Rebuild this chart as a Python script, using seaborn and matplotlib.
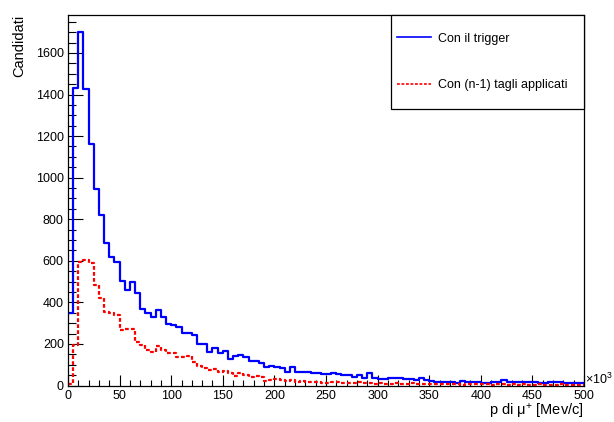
import numpy as np
import pandas as pd
import matplotlib
matplotlib.use("Agg")
import matplotlib.pyplot as plt
import seaborn as sns
from matplotlib.ticker import MultipleLocator

# ---- data (bin width 5 x10^3 MeV/c, 0..500) ----
bin_width = 5
bin_lo = 0
bin_hi = 500

trigger_counts = [
    348, 1432, 1700, 1425, 1163, 947, 819, 686, 616, 595,
    502, 460, 497, 443, 366, 347, 328, 363, 328, 296,
    291, 280, 251, 254, 243, 200, 200, 160, 179, 155,
    166, 126, 142, 145, 135, 120, 120, 107, 91, 96,
    91, 83, 67, 91, 67, 64, 64, 62, 59, 56,
    56, 59, 56, 51, 51, 40, 51, 37, 59, 35,
    30, 30, 35, 38, 35, 32, 32, 27, 35, 27,
    24, 19, 19, 19, 16, 11, 24, 19, 19, 19,
    14, 14, 16, 16, 27, 19, 19, 16, 19, 16,
    16, 14, 14, 19, 16, 16, 14, 11, 11, 11,
]

cuts_counts = [
    5, 195, 595, 603, 590, 483, 419, 355, 347, 339,
    267, 270, 270, 211, 195, 171, 163, 190, 171, 158,
    155, 136, 136, 142, 115, 94, 83, 75, 78, 67,
    70, 59, 46, 62, 51, 43, 46, 43, 24, 27,
    32, 27, 22, 27, 19, 22, 19, 19, 16, 11,
    14, 19, 16, 11, 14, 11, 19, 11, 12, 8,
    10, 6, 9, 11, 7, 8, 10, 6, 8, 5,
    7, 9, 6, 5, 8, 6, 4, 7, 5, 6,
    8, 5, 4, 6, 5, 3, 5, 4, 6, 4,
    3, 5, 4, 3, 4, 5, 3, 4, 3, 2,
]

labels = ["Con il trigger", "Con (n-1) tagli applicati"]
x_title = "p di \u03bc$^{+}$ [Mev/c]"
y_title = "Candidati"

edges = np.arange(bin_lo, bin_hi + bin_width, bin_width)
centers = edges[:-1] + bin_width / 2
df_trig = pd.DataFrame({"p": centers, "n": np.asarray(trigger_counts, dtype=float)})
df_cuts = pd.DataFrame({"p": centers, "n": np.asarray(cuts_counts, dtype=float)})

plt.rcParams["font.family"] = ["Liberation Sans", "DejaVu Sans"]
plt.rcParams["mathtext.fontset"] = "custom"
plt.rcParams["mathtext.rm"] = "Liberation Sans"
plt.rcParams["mathtext.it"] = "Liberation Sans:italic"
plt.rcParams["mathtext.bf"] = "Liberation Sans:bold"

W, H = 614, 422
fig = plt.figure(figsize=(W / 100, H / 100), dpi=100)
fig.patch.set_facecolor("white")
ax = fig.add_axes([68 / W, 1 - 385.5 / H, (584 - 68) / W, (385.5 - 14.5) / H])

sns.histplot(data=df_trig, x="p", weights="n", binwidth=bin_width,
             binrange=(bin_lo, bin_hi),
             element="step", fill=False, color="#0000ff", linewidth=1.6,
             ax=ax, label=labels[0])
sns.histplot(data=df_cuts, x="p", weights="n", binwidth=bin_width,
             binrange=(bin_lo, bin_hi),
             element="step", fill=False, color="#ff0000", linewidth=1.6,
             linestyle=(0, (1.7, 1.0)), ax=ax, label=labels[1])

ax.set_xlim(bin_lo, bin_hi)
ax.set_ylim(0, 1.05 * max(trigger_counts))
ax.set_xlabel("")
ax.set_ylabel("")

for s in ax.spines.values():
    s.set_color("black")
    s.set_linewidth(0.9)

ax.xaxis.set_major_locator(MultipleLocator(50))
ax.xaxis.set_minor_locator(MultipleLocator(10))
ax.yaxis.set_major_locator(MultipleLocator(200))
ax.yaxis.set_minor_locator(MultipleLocator(50))
ax.tick_params(axis="x", which="major", direction="in", length=8, width=0.8,
               labelsize=9, pad=3, top=False)
ax.tick_params(axis="x", which="minor", direction="in", length=4, width=0.8, top=False)
ax.tick_params(axis="y", which="major", direction="in", length=11, width=0.8,
               labelsize=9, pad=3, right=False)
ax.tick_params(axis="y", which="minor", direction="in", length=5.5, width=0.8, right=False)
ax.grid(False)

leg = ax.legend(loc="upper right", bbox_to_anchor=(0.626, 0.0, 0.374, 1.0),
                mode="expand", borderaxespad=0, fancybox=False, framealpha=1,
                edgecolor="black", fontsize=9, handlelength=2.7,
                handletextpad=0.55, borderpad=0.5, handleheight=3.96,
                labelspacing=0.9)
leg.get_frame().set_linewidth(0.9)
for ln in leg.get_lines():
    ln.set_linewidth(1.2)
    ln.set_ydata(np.asarray(ln.get_ydata(), dtype=float) - 4.5)

fig.text(19 / W, 1 - 15 / H, y_title, rotation=90, ha="center", va="top",
         fontsize=10.5)
fig.text(584 / W, 1 - 416 / H, x_title, ha="right", va="baseline", fontsize=10.5)
fig.text(585 / W, 1 - 384 / H, "\u00d710$^{3}$", ha="left", va="baseline",
         fontsize=9)

fig.savefig("out.png", dpi=100, facecolor="white")
